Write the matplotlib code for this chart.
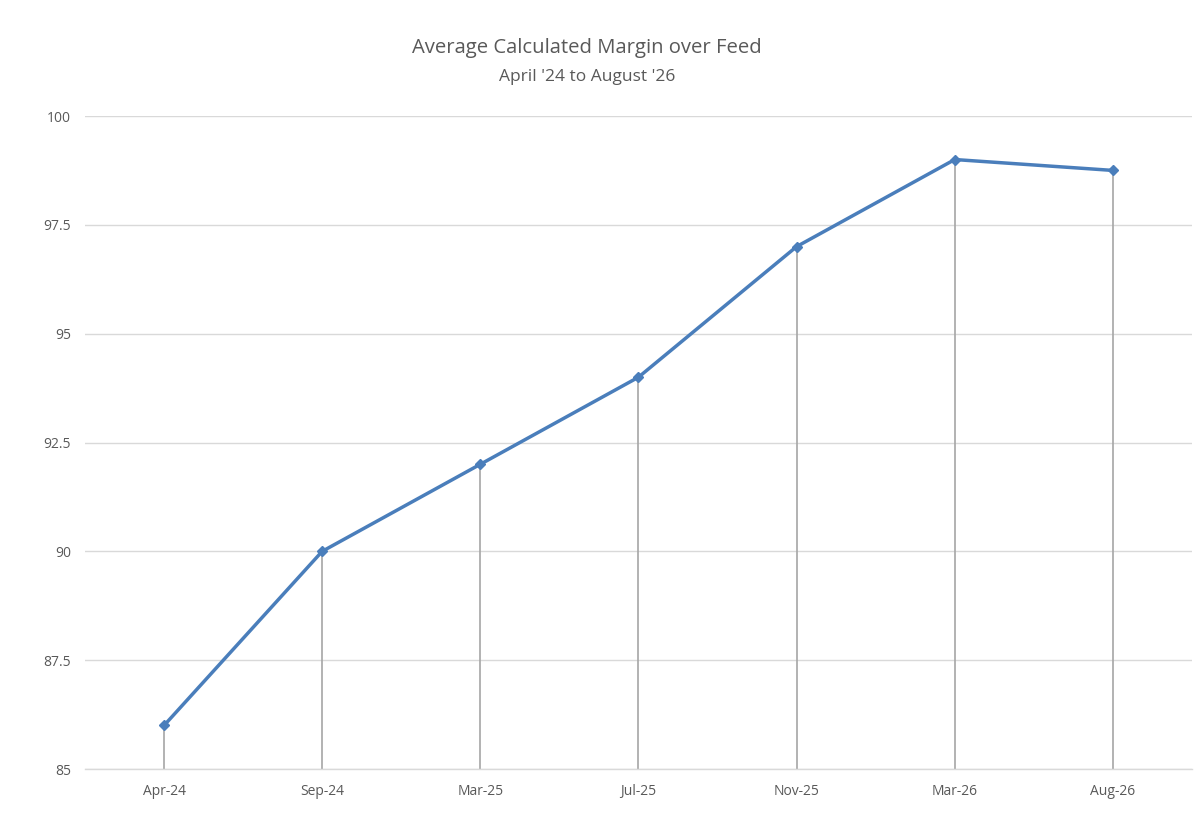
import numpy as np
import matplotlib
matplotlib.use("Agg")
import matplotlib.pyplot as plt

months = ["Apr-24", "Sep-24", "Mar-25", "Jul-25", "Nov-25", "Mar-26", "Aug-26"]
margin = [86.0, 90.0, 92.0, 94.0, 97.0, 99.0, 98.75]
yticks = [85, 87.5, 90, 92.5, 95, 97.5, 100]
ytick_labels = ["85", "87.5", "90", "92.5", "95", "97.5", "100"]

plt.rcParams['font.family'] = ['Open Sans', 'DejaVu Sans']
txt = "#595959"
line_col = "#4a7ebb"

fig = plt.figure(figsize=(12, 8.4), dpi=100)
ax = fig.add_axes([0.0708, 0.0845, 0.9225, 0.7774])

x = np.arange(len(months))
ax.vlines(x, 85, margin, color="#a6a6a6", linewidth=1.2, zorder=2)
ax.plot(x, margin, color=line_col, linewidth=2.5, marker="D", markersize=5,
        markerfacecolor=line_col, markeredgecolor=line_col, zorder=3)

ax.set_xlim(-0.5, len(months) - 0.5)
ax.set_ylim(85, 100)
ax.set_yticks(yticks)
ax.set_yticklabels(ytick_labels)
ax.set_xticks(x)
ax.set_xticklabels(months)
ax.yaxis.grid(True, color="#d9d9d9", linewidth=1)
ax.set_axisbelow(True)
for s in ["top", "right", "left"]:
    ax.spines[s].set_visible(False)
ax.spines["bottom"].set_color("#d9d9d9")
ax.spines["bottom"].set_linewidth(1)
ax.tick_params(axis="both", length=0, labelsize=10, colors=txt)
ax.tick_params(axis="x", pad=11)
ax.tick_params(axis="y", pad=10)

fig.text(0.489, 0.943, "Average Calculated Margin over Feed", ha="center", va="center",
         fontsize=14.6, color=txt)
fig.text(0.489, 0.908, "April '24 to August '26", ha="center", va="center",
         fontsize=12.5, color=txt)

fig.savefig("out.png", dpi=100)
